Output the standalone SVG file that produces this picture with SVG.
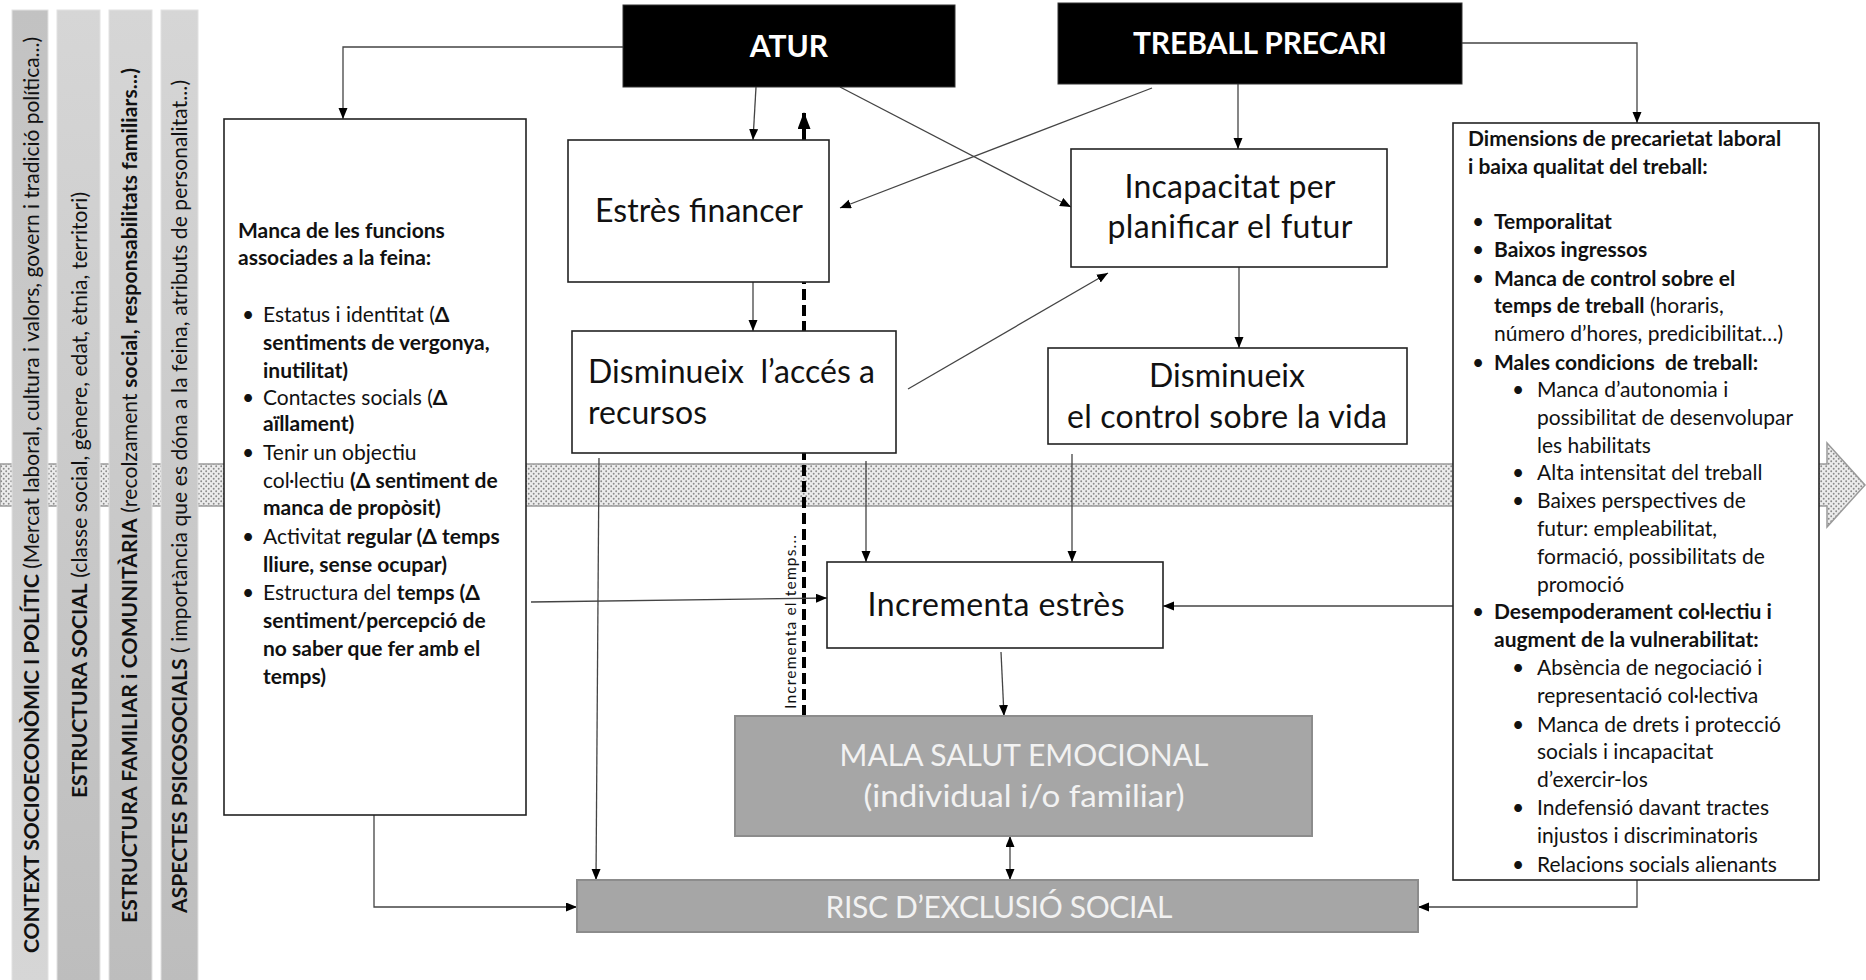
<svg xmlns="http://www.w3.org/2000/svg" width="1866" height="980" viewBox="0 0 1866 980">
<defs>
<style>
text{font-family:Lato,"Open Sans","Liberation Sans",sans-serif;fill:#111}
.b{font-weight:bold}
.box{fill:#fff;stroke:#222;stroke-width:1.6}
.blk{fill:#000;stroke:#333;stroke-width:1}
.gray{fill:#a6a6a6;stroke:#8c8c8c;stroke-width:2}
.big{font-size:32px}
.hd{font-size:30px;font-weight:bold;fill:#fff}
.gt{font-size:30px;fill:#f2f2f2}
.sm{font-size:21px}
.bar{font-size:21px}
.ln{fill:none;stroke:#444;stroke-width:1.3}
.dash{fill:none;stroke:#000;stroke-width:4;stroke-dasharray:11 5}
.barr{stroke:#e2e2e2;stroke-width:1}
</style>
<marker id="ar" markerUnits="userSpaceOnUse" markerWidth="12" markerHeight="10" refX="11" refY="4.5" orient="auto-start-reverse"><path d="M0,0 L11,4.5 L0,9 z" fill="#000"/></marker>
<marker id="arB" markerUnits="userSpaceOnUse" markerWidth="18" markerHeight="14" refX="17" refY="6.5" orient="auto"><path d="M0,0 L17,6.5 L0,13 z" fill="#000"/></marker>
<pattern id="dots" width="5" height="5" patternUnits="userSpaceOnUse"><rect width="5" height="5" fill="#ececec"/><circle cx="1.2" cy="1.2" r="0.95" fill="#8a8a8a"/><circle cx="3.7" cy="3.7" r="0.95" fill="#8a8a8a"/></pattern>
<linearGradient id="g1" x1="0" y1="0" x2="0" y2="1"><stop offset="0" stop-color="#c2c2c2"/><stop offset="1" stop-color="#d6d6d6"/></linearGradient>
<linearGradient id="g2" x1="0" y1="0" x2="0" y2="1"><stop offset="0" stop-color="#d6d6d6"/><stop offset="1" stop-color="#bdbdbd"/></linearGradient>
</defs>

<g id="band">
<path d="M0,464 H1827 V443 L1865,485 L1827,527 V506 H0 Z" fill="url(#dots)" stroke="#9a9a9a" stroke-width="1.5"/>
</g>

<g id="bar-context">
<rect class="barr" x="12" y="10" width="36" height="972" fill="url(#g1)"/>
<text class="bar" transform="translate(39,953) rotate(-90)" textLength="916"><tspan class="b">CONTEXT SOCIOECONÒMIC I POLÍTIC</tspan> (Mercat laboral, cultura i valors, govern i tradició política...)</text>
</g>
<g id="bar-social">
<rect class="barr" x="57" y="10" width="43" height="972" fill="url(#g2)"/>
<text class="bar" transform="translate(87,798) rotate(-90)" textLength="606"><tspan class="b">ESTRUCTURA SOCIAL</tspan> (classe social, gènere, edat, ètnia, territori)</text>
</g>
<g id="bar-familiar">
<rect class="barr" x="109" y="10" width="43" height="972" fill="url(#g2)"/>
<text class="bar" transform="translate(137,923) rotate(-90)" textLength="855"><tspan class="b">ESTRUCTURA FAMILIAR i COMUNITÀRIA</tspan> (recolzament <tspan class="b">social, responsabilitats familiars...)</tspan></text>
</g>
<g id="bar-psico">
<rect class="barr" x="161" y="10" width="37" height="972" fill="url(#g2)"/>
<text class="bar" transform="translate(187,913) rotate(-90)" textLength="833"><tspan class="b">ASPECTES PSICOSOCIALS</tspan> ( importància que es dóna a la feina, atributs de personalitat...)</text>
</g>

<g id="connectors">
<path class="dash" d="M804,716 V112" marker-end="url(#arB)"/>
<path class="ln" d="M623,47 H343 V119" marker-end="url(#ar)"/>
<path class="ln" d="M756,87 L753,140" marker-end="url(#ar)"/>
<path class="ln" d="M753,282 V331" marker-end="url(#ar)"/>
<path class="ln" d="M840,87 L1071,207" marker-end="url(#ar)"/>
<path class="ln" d="M1152,88 L840,208" marker-end="url(#ar)"/>
<path class="ln" d="M908,389 L1108,273" marker-end="url(#ar)"/>
<path class="ln" d="M1238,84 V149" marker-end="url(#ar)"/>
<path class="ln" d="M1239,267 V348" marker-end="url(#ar)"/>
<path class="ln" d="M1462,43 H1637 V123" marker-end="url(#ar)"/>
<path class="ln" d="M599,458 L596,880" marker-end="url(#ar)"/>
<path class="ln" d="M866,461 V562" marker-end="url(#ar)"/>
<path class="ln" d="M1072,454 V562" marker-end="url(#ar)"/>
<path class="ln" d="M531,602 L827,598" marker-end="url(#ar)"/>
<path class="ln" d="M1453,606 H1163" marker-end="url(#ar)"/>
<path class="ln" d="M1001,652 L1004,716" marker-end="url(#ar)"/>
<path class="ln" d="M1010,836 V880" marker-start="url(#ar)" marker-end="url(#ar)"/>
<path class="ln" d="M374,815 V907 H577" marker-end="url(#ar)"/>
<path class="ln" d="M1637,880 V907 H1418" marker-end="url(#ar)"/>
<text transform="translate(796,709) rotate(-90)" font-size="15.5" textLength="174">Incrementa el temps...</text>
</g>

<g id="atur">
<rect class="blk" x="623" y="5" width="332" height="82"/>
<text class="hd" x="789" y="57" text-anchor="middle">ATUR</text>
</g>
<g id="treball-precari">
<rect class="blk" x="1058" y="3" width="404" height="81"/>
<text class="hd" x="1260" y="54" text-anchor="middle" textLength="254">TREBALL PRECARI</text>
</g>
<g id="estres-financer">
<rect class="box" x="568" y="140" width="261" height="142"/>
<text class="big" x="699" y="222" text-anchor="middle" textLength="208">Estrès financer</text>
</g>
<g id="disminueix-acces">
<rect class="box" x="572" y="331" width="324" height="122"/>
<text class="big" x="588" y="383" textLength="287">Disminueix&#160; l’accés a</text>
<text class="big" x="588" y="424" textLength="119">recursos</text>
</g>
<g id="incapacitat">
<rect class="box" x="1071" y="149" width="316" height="118"/>
<text class="big" x="1230" y="198" text-anchor="middle" textLength="211">Incapacitat per</text>
<text class="big" x="1230" y="238" text-anchor="middle" textLength="245">planificar el futur</text>
</g>
<g id="disminueix-control">
<rect class="box" x="1048" y="348" width="359" height="96"/>
<text class="big" x="1227" y="387" text-anchor="middle" textLength="156">Disminueix</text>
<text class="big" x="1227" y="428" text-anchor="middle" textLength="320">el control sobre la vida</text>
</g>
<g id="incrementa-estres">
<rect class="box" x="827" y="562" width="336" height="86"/>
<text class="big" x="996" y="616" text-anchor="middle" textLength="257">Incrementa estrès</text>
</g>
<g id="mala-salut">
<rect class="gray" x="735" y="716" width="577" height="120"/>
<text class="gt" x="1024" y="766" text-anchor="middle" textLength="369">MALA SALUT EMOCIONAL</text>
<text class="gt" x="1024" y="807" text-anchor="middle" font-size="32" textLength="321" lengthAdjust="spacingAndGlyphs">(individual i/o familiar)</text>
</g>
<g id="risc">
<rect class="gray" x="577" y="880" width="841" height="52"/>
<text class="gt" x="999" y="918" text-anchor="middle" font-size="29" textLength="347">RISC D’EXCLUSIÓ SOCIAL</text>
</g>

<g id="funcions-feina">
<rect class="box" x="224" y="119" width="302" height="696"/>
<g class="sm">
<text class="b" x="238" y="238">Manca de les funcions</text>
<text class="b" x="238" y="265">associades a la feina:</text>
<text x="242" y="322">•</text><text x="263" y="322">Estatus i identitat (<tspan class="b">Δ</tspan></text>
<text class="b" x="263" y="350">sentiments de vergonya,</text>
<text class="b" x="263" y="378">inutilitat)</text>
<text x="242" y="405">•</text><text x="263" y="405">Contactes socials (<tspan class="b">Δ</tspan></text>
<text class="b" x="263" y="431">aïllament)</text>
<text x="242" y="460">•</text><text x="263" y="460">Tenir un objectiu</text>
<text x="263" y="488">col·lectiu <tspan class="b">(Δ sentiment de</tspan></text>
<text class="b" x="263" y="515">manca de propòsit)</text>
<text x="242" y="544">•</text><text x="263" y="544">Activitat <tspan class="b">regular (Δ temps</tspan></text>
<text class="b" x="263" y="572">lliure, sense ocupar)</text>
<text x="242" y="600">•</text><text x="263" y="600">Estructura del <tspan class="b">temps (Δ</tspan></text>
<text class="b" x="263" y="628">sentiment/percepció de</text>
<text class="b" x="263" y="656">no saber que fer amb el</text>
<text class="b" x="263" y="684">temps)</text>
</g>
</g>

<g id="dimensions-precarietat">
<rect class="box" x="1453" y="123" width="366" height="757"/>
<g class="sm">
<text class="b" x="1468" y="146">Dimensions de precarietat laboral</text>
<text class="b" x="1468" y="174">i baixa qualitat del treball:</text>
<text x="1472" y="229">•</text><text class="b" x="1494" y="229">Temporalitat</text>
<text x="1472" y="257">•</text><text class="b" x="1494" y="257">Baixos ingressos</text>
<text x="1472" y="286">•</text><text class="b" x="1494" y="286">Manca de control sobre el</text>
<text x="1494" y="313"><tspan class="b">temps de treball</tspan> (horaris,</text>
<text x="1494" y="341">número d’hores, predicibilitat…)</text>
<text x="1472" y="370">•</text><text class="b" x="1494" y="370">Males condicions&#160; de treball:</text>
<text x="1512" y="397">•</text><text x="1537" y="397">Manca d’autonomia i</text>
<text x="1537" y="425">possibilitat de desenvolupar</text>
<text x="1537" y="453">les habilitats</text>
<text x="1512" y="480">•</text><text x="1537" y="480">Alta intensitat del treball</text>
<text x="1512" y="508">•</text><text x="1537" y="508">Baixes perspectives de</text>
<text x="1537" y="536">futur: empleabilitat,</text>
<text x="1537" y="564">formació, possibilitats de</text>
<text x="1537" y="592">promoció</text>
<text x="1472" y="619">•</text><text class="b" x="1494" y="619">Desempoderament col·lectiu i</text>
<text class="b" x="1494" y="647">augment de la vulnerabilitat:</text>
<text x="1512" y="675">•</text><text x="1537" y="675">Absència de negociació i</text>
<text x="1537" y="703">representació col·lectiva</text>
<text x="1512" y="732">•</text><text x="1537" y="732">Manca de drets i protecció</text>
<text x="1537" y="759">socials i incapacitat</text>
<text x="1537" y="787">d’exercir-los</text>
<text x="1512" y="815">•</text><text x="1537" y="815">Indefensió davant tractes</text>
<text x="1537" y="843">injustos i discriminatoris</text>
<text x="1512" y="872">•</text><text x="1537" y="872">Relacions socials alienants</text>
</g>
</g>
</svg>
